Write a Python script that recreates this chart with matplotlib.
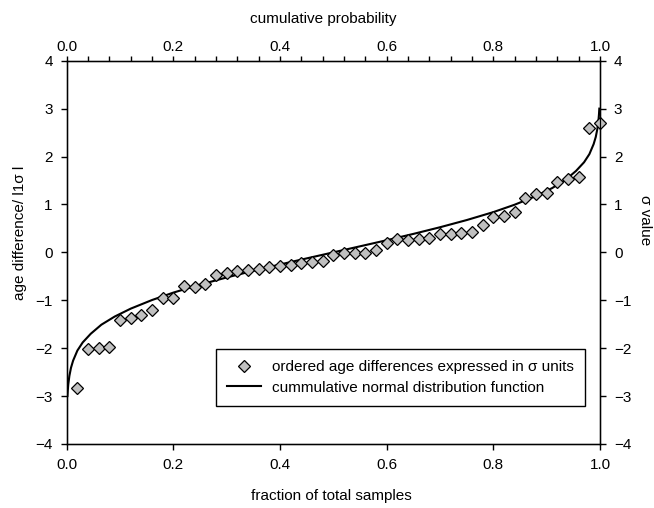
import matplotlib
matplotlib.use("Agg")
import matplotlib.pyplot as plt
from matplotlib.ticker import MultipleLocator

plt.rcParams['font.family'] = ['Liberation Sans', 'DejaVu Sans']
plt.rcParams['font.size'] = 11

# ordered age differences (sigma units) vs fraction of total samples
fraction = [0.02, 0.04, 0.06, 0.08, 0.10, 0.12, 0.14, 0.16, 0.18, 0.20,
            0.22, 0.24, 0.26, 0.28, 0.30, 0.32, 0.34, 0.36, 0.38, 0.40,
            0.42, 0.44, 0.46, 0.48, 0.50, 0.52, 0.54, 0.56, 0.58, 0.60,
            0.62, 0.64, 0.66, 0.68, 0.70, 0.72, 0.74, 0.76, 0.78, 0.80,
            0.82, 0.84, 0.86, 0.88, 0.90, 0.92, 0.94, 0.96, 0.98, 1.00]
sigma_diff = [-2.83, -2.01, -1.99, -1.97, -1.42, -1.36, -1.31, -1.20, -0.96, -0.96,
              -0.70, -0.72, -0.66, -0.47, -0.43, -0.39, -0.37, -0.35, -0.30, -0.28,
              -0.27, -0.22, -0.20, -0.18, -0.06, -0.01, -0.01, -0.01, 0.05, 0.19,
              0.27, 0.26, 0.27, 0.29, 0.38, 0.38, 0.40, 0.43, 0.57, 0.74,
              0.76, 0.85, 1.13, 1.22, 1.23, 1.46, 1.53, 1.57, 2.59, 2.69]

# cumulative normal distribution curve (probability -> sigma value)
cdf_prob = [0.00135, 0.002, 0.003, 0.005, 0.008, 0.012, 0.02, 0.03, 0.045, 0.065,
            0.09, 0.12, 0.16, 0.20, 0.25, 0.30, 0.35, 0.40, 0.45, 0.50,
            0.55, 0.60, 0.65, 0.70, 0.75, 0.80, 0.84, 0.88, 0.91, 0.935,
            0.955, 0.97, 0.98, 0.988, 0.992, 0.995, 0.997, 0.998, 0.99865]
cdf_sigma = [-3.00, -2.88, -2.75, -2.58, -2.41, -2.26, -2.05, -1.88, -1.70, -1.51,
             -1.34, -1.175, -0.995, -0.84, -0.674, -0.524, -0.385, -0.253, -0.126, 0.0,
             0.126, 0.253, 0.385, 0.524, 0.674, 0.84, 0.995, 1.175, 1.34, 1.51,
             1.70, 1.88, 2.05, 2.26, 2.41, 2.58, 2.75, 2.88, 3.00]

tick_labels = ['0.0', '0.2', '0.4', '0.6', '0.8', '1.0']

fig = plt.figure(figsize=(6.54, 5.08), dpi=100)
ax = fig.add_axes([0.102, 0.126, 0.8155, 0.7545])

ax.plot(cdf_prob, cdf_sigma, color='black', lw=1.5, zorder=2,
        label='cummulative normal distribution function')
ax.plot(fraction, sigma_diff, ls='none', marker='D', markersize=6.6,
        markerfacecolor='#c0c0c0', markeredgecolor='black', markeredgewidth=0.9,
        zorder=3, clip_on=False,
        label='ordered age differences expressed in \u03c3 units')

ax.set_xlim(0, 1)
ax.set_ylim(-4, 4)
ax.set_xticks([0, 0.2, 0.4, 0.6, 0.8, 1.0])
ax.set_xticklabels(tick_labels)
ax.set_yticks(range(-4, 5))
ax.tick_params(direction='out', length=4, width=1, pad=6)
for s in ax.spines.values():
    s.set_linewidth(1)

# right axis: sigma value
axr = ax.twinx()
axr.set_ylim(-4, 4)
axr.set_yticks(range(-4, 5))
axr.tick_params(direction='out', length=4, width=1, pad=6)

# top axis: cumulative probability
axt = ax.twiny()
axt.set_xlim(0, 1)
axt.xaxis.set_minor_locator(MultipleLocator(0.04))
axt.set_xticks([0, 0.2, 0.4, 0.6, 0.8, 1.0])
axt.set_xticklabels(tick_labels)
axt.tick_params(which='both', direction='out', length=3.5, width=1, pad=1.5)

handles, labels = ax.get_legend_handles_labels()
leg = ax.legend(handles[::-1], labels[::-1], loc='lower right',
                bbox_to_anchor=(0.972, 0.099), borderaxespad=0,
                fancybox=False, shadow=False, framealpha=1,
                edgecolor='black', handlelength=2.2, labelspacing=0.4,
                borderpad=0.75, handletextpad=0.7)
leg.get_frame().set_linewidth(1)

fig.text(323 / 654, 1 - 18.5 / 508, 'cumulative probability', ha='center', va='center')
fig.text(331 / 654, 1 - 496 / 508, 'fraction of total samples', ha='center', va='center')
fig.text(20 / 654, 1 - 233 / 508, 'age difference/ l1\u03c3 l', rotation=90,
         ha='center', va='center')
fig.text(645 / 654, 1 - 220 / 508, '\u03c3 value', rotation=270,
         ha='center', va='center')

fig.savefig('out.png', dpi=100)
